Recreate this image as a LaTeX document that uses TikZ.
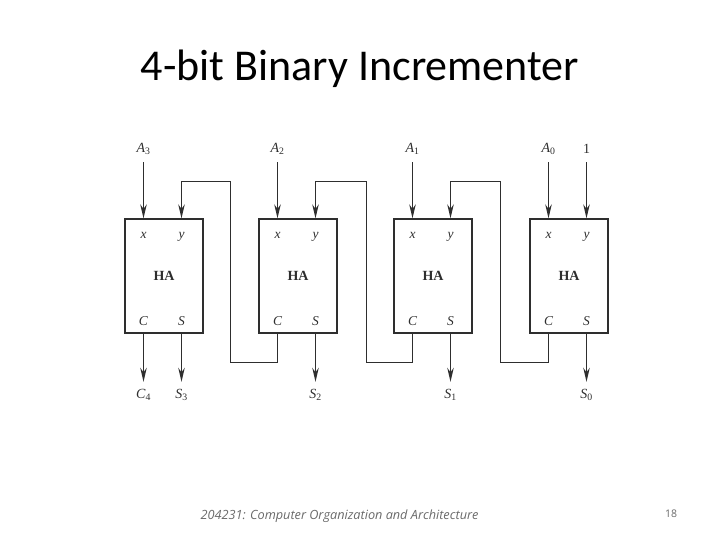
\documentclass[tikz,border=0pt]{standalone}
\usepackage{fontspec}
\setmainfont{Liberation Serif}
\newfontfamily\titlefont{Carlito}
\newfontfamily\footfont{Open Sans}
\usetikzlibrary{arrows.meta}
\definecolor{inkline}{HTML}{2E2E2E}
\definecolor{footgray}{HTML}{6A6A6A}
\tikzset{
hablock/.style={draw=inkline, line width=1.3pt, minimum width=78pt, minimum height=114pt, inner sep=0pt, font=\fontsize{14}{16}\selectfont\bfseries, text=inkline},
port/.style={inner sep=0pt, anchor=base, font=\fontsize{13.5}{16}\selectfont\itshape, text=inkline},
pin/.style={inner sep=0pt, minimum height=26pt, font=\fontsize{14}{16}\selectfont, text=inkline},
signal/.style={draw=inkline, line width=1.3pt, -{Stealth[length=14pt,width=6.5pt]}},
carry/.style={signal}
}
\begin{document}
\begin{tikzpicture}[x=1pt,y=-1pt]
\useasboundingbox (0,0) rectangle (720,540);
\node[inner sep=0pt, font=\fontsize{44}{50}\selectfont\titlefont, text=black] (title) at (360,69) {4-bit Binary Incrementer};
% the four half adders
\foreach \n/\px in {3/164,2/298,1/433,0/569} {
  \node[hablock] (ha\n) at (\px,276) {HA};
  \node[port] (x\n) at (\px-20.5,239) {x};
  \node[port] (y\n) at (\px+17.5,239) {y};
  \node[port] (c\n) at (\px-20.5,325) {C};
  \node[port] (s\n) at (\px+17.5,325) {S};
}
% inputs
\node[pin] (A3) at (x3|-0,149) {\textit{A}\textsubscript{3}};
\node[pin] (A2) at (x2|-0,149) {\textit{A}\textsubscript{2}};
\node[pin] (A1) at (x1|-0,149) {\textit{A}\textsubscript{1}};
\node[pin] (A0) at (x0|-0,149) {\textit{A}\textsubscript{0}};
\node[pin] (one) at (y0|-0,149) {1};
% outputs
\node[pin] (C4) at (c3|-0,395) {\textit{C}\textsubscript{4}};
\node[pin] (S3) at (s3|-0,395) {\textit{S}\textsubscript{3}};
\node[pin] (S2) at (s2|-0,395) {\textit{S}\textsubscript{2}};
\node[pin] (S1) at (s1|-0,395) {\textit{S}\textsubscript{1}};
\node[pin] (S0) at (s0|-0,395) {\textit{S}\textsubscript{0}};
\foreach \n in {3,2,1,0} {
  \draw[signal] (A\n) -- (x\n|-ha\n.north);
  \draw[signal] (s\n|-ha\n.south) -- (S\n);
}
\draw[signal] (one) -- (y0|-ha0.north);
\draw[signal] (c3|-ha3.south) -- (C4);
% carries
\draw[carry] (c2|-ha2.south) |- (230.5,362.5) |- (y3|-0,181.5) -- (y3|-ha3.north);
\draw[carry] (c1|-ha1.south) |- (366.5,362.5) |- (y2|-0,181.5) -- (y2|-ha2.north);
\draw[carry] (c0|-ha0.south) |- (500.5,362.5) |- (y1|-0,181.5) -- (y1|-ha1.north);
% footer
\node[inner sep=0pt, font=\fontsize{12.7}{15}\selectfont\footfont\itshape, text=footgray] (foot) at (339.5,516.5) {204231: Computer Organization and Architecture};
\node[inner sep=0pt, font=\fontsize{10.5}{12}\selectfont\footfont, text=footgray] (page) at (671,513.5) {18};
\end{tikzpicture}
\end{document}
